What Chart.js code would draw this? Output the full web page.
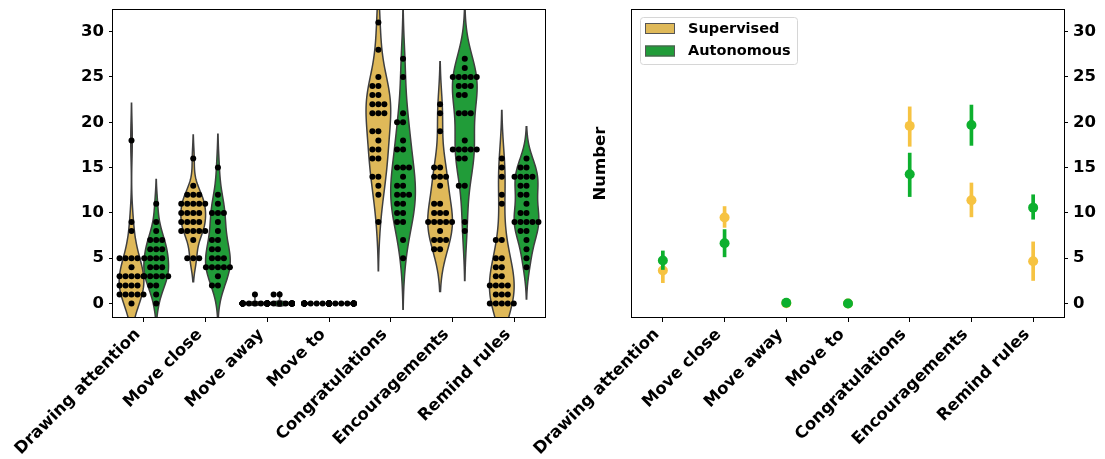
<!DOCTYPE html>
<html>
<head>
<meta charset="utf-8">
<script src="https://cdn.jsdelivr.net/npm/chart.js@4"></script>
<style>
  body { margin: 0; background: #fff; }
  #wrap { position: relative; width: 1105px; height: 459px; overflow: hidden; }
  canvas { position: absolute; top: 0; }
  #left { left: 0; }
  #right { left: 500px; }
</style>
</head>
<body>
<div id="wrap">
  <canvas id="left" width="560" height="459"></canvas>
  <canvas id="right" width="605" height="459"></canvas>
</div>
<script>
const categories = ['Drawing attention', 'Move close', 'Move away', 'Move to', 'Congratulations', 'Encouragements', 'Remind rules'];
const groups = ['Supervised', 'Autonomous'];
const yTicks = [0, 5, 10, 15, 20, 25, 30];

// one value per participant
const supervisedObs = [
  [0, 1, 1, 1, 1, 1, 2, 2, 2, 2, 3, 3, 3, 3, 3, 4, 5, 5, 5, 5, 8, 9, 18],
  [5, 5, 5, 7, 8, 8, 8, 8, 8, 9, 9, 9, 9, 10, 10, 10, 10, 11, 11, 11, 11, 11, 12, 12, 12, 13, 16],
  [0, 0, 0, 0, 0, 0, 0, 0, 0, 0, 0, 0, 0, 0, 0, 0, 0, 0, 0, 0, 0, 0, 0, 0, 1],
  [0, 0, 0, 0, 0, 0, 0, 0, 0, 0, 0, 0, 0, 0, 0, 0, 0, 0, 0, 0, 0, 0, 0, 0, 0],
  [9, 12, 13, 14, 14, 16, 16, 17, 17, 18, 19, 19, 21, 21, 21, 22, 22, 22, 23, 23, 24, 24, 25, 28, 31],
  [6, 6, 7, 7, 7, 8, 9, 9, 9, 9, 9, 10, 10, 10, 11, 11, 13, 14, 14, 14, 15, 15, 19, 21, 22],
  [0, 0, 0, 0, 0, 1, 1, 1, 2, 2, 2, 2, 3, 3, 4, 4, 5, 5, 7, 7, 11, 12, 14, 15, 16]
];
const autonomousObs = [
  [0, 1, 2, 2, 3, 3, 3, 3, 3, 4, 4, 4, 5, 5, 5, 5, 6, 6, 6, 7, 7, 7, 8, 9, 11],
  [2, 2, 3, 4, 4, 4, 4, 4, 5, 5, 5, 6, 6, 7, 7, 8, 9, 10, 10, 10, 11, 12, 15],
  [0, 0, 0, 0, 0, 0, 0, 0, 0, 0, 0, 0, 0, 0, 0, 0, 0, 0, 0, 0, 0, 0, 0, 1, 1],
  [0, 0, 0, 0, 0, 0, 0, 0, 0, 0, 0, 0, 0, 0, 0, 0, 0, 0, 0, 0, 0, 0, 0, 0, 0],
  [5, 7, 9, 9, 10, 10, 11, 11, 12, 12, 12, 13, 13, 14, 15, 15, 15, 17, 17, 18, 20, 20, 21, 25, 27],
  [8, 9, 13, 13, 16, 16, 17, 17, 17, 17, 17, 18, 21, 21, 21, 23, 23, 24, 24, 24, 25, 25, 25, 25, 25, 26, 27],
  [4, 5, 6, 7, 8, 8, 9, 9, 9, 9, 9, 10, 10, 11, 12, 12, 13, 13, 14, 14, 14, 14, 15, 15, 16]
];

// right panel: mean and 95% CI
const supMean = [3.64, 9.5, 0.04, 0, 19.6, 11.4, 4.67];
const supLow = [2.3, 8.4, 0, 0, 17.35, 9.56, 2.54];
const supHigh = [5.0, 10.7, 0.12, 0, 21.7, 13.3, 6.8];
const autMean = [4.74, 6.65, 0.08, 0, 14.26, 19.7, 10.58];
const autLow = [3.75, 5.15, 0, 0, 11.8, 17.45, 9.3];
const autHigh = [5.8, 8.16, 0.2, 0, 16.6, 21.9, 12.0];

const violinColors = ['#dfb959', '#219c39'];
const pointColors = ['#f6c342', '#0db02e'];

const HALF = 0.2;        // half width of one violin (x units)
const DOT_STEP = 0.097;  // swarm spacing (x units)

Chart.defaults.font.family = 'DejaVu Sans';
Chart.defaults.font.weight = 'bold';
Chart.defaults.font.size = 16.5;
Chart.defaults.color = '#000';

function swarm(obs, center) {
  let rows = {};
  let pts = [];
  obs.forEach(function (v) {
    let k = rows[v] || 0;
    rows[v] = k + 1;
    let step = Math.ceil(k / 2) * (k % 2 ? -1 : 1);
    let dx = Math.max(-HALF, Math.min(HALF, step * DOT_STEP));
    pts.push({ x: center + dx, y: v });
  });
  return pts;
}

function drawViolin(ctx, xs, ys, obs, center, color) {
  let n = obs.length;
  let mean = obs.reduce((a, b) => a + b, 0) / n;
  let sd = Math.sqrt(obs.reduce((a, b) => a + (b - mean) * (b - mean), 0) / (n - 1));
  ctx.strokeStyle = '#3f3f3f';
  ctx.lineWidth = 1.5;
  if (sd === 0) {
    ctx.beginPath();
    ctx.moveTo(xs.getPixelForValue(center - HALF), ys.getPixelForValue(obs[0]));
    ctx.lineTo(xs.getPixelForValue(center + HALF), ys.getPixelForValue(obs[0]));
    ctx.stroke();
    return;
  }
  let bw = sd * Math.pow(n, -0.2);
  let lo = Math.min(...obs) - 2 * bw;
  let hi = Math.max(...obs) + 2 * bw;
  let grid = [], dens = [];
  for (let j = 0; j <= 120; j++) {
    let g = lo + (hi - lo) * j / 120;
    let d = 0;
    obs.forEach(function (v) { d += Math.exp(-0.5 * Math.pow((g - v) / bw, 2)); });
    grid.push(g);
    dens.push(d);
  }
  let maxd = Math.max(...dens);
  ctx.beginPath();
  for (let j = 0; j < grid.length; j++) {
    let px = xs.getPixelForValue(center + dens[j] / maxd * HALF);
    let py = ys.getPixelForValue(grid[j]);
    if (j === 0) ctx.moveTo(px, py); else ctx.lineTo(px, py);
  }
  for (let j = grid.length - 1; j >= 0; j--) {
    ctx.lineTo(xs.getPixelForValue(center - dens[j] / maxd * HALF), ys.getPixelForValue(grid[j]));
  }
  ctx.closePath();
  ctx.fillStyle = color;
  ctx.fill();
  ctx.stroke();
}

const violinPlugin = {
  id: 'violins',
  beforeDatasetsDraw(chart) {
    const { ctx, chartArea: a, scales } = chart;
    ctx.save();
    ctx.beginPath();
    ctx.rect(a.left, a.top, a.width, a.height);
    ctx.clip();
    categories.forEach(function (c, i) {
      drawViolin(ctx, scales.x, scales.y, supervisedObs[i], i - 0.2, violinColors[0]);
      drawViolin(ctx, scales.x, scales.y, autonomousObs[i], i + 0.2, violinColors[1]);
    });
    ctx.restore();
  }
};

const framePlugin = {
  id: 'frame',
  afterDraw(chart) {
    const { ctx, chartArea: a } = chart;
    ctx.save();
    ctx.strokeStyle = '#000';
    ctx.lineWidth = 1;
    ctx.strokeRect(Math.round(a.left) - 0.5, Math.round(a.top) + 0.5, Math.round(a.width) + 1, Math.round(a.height) - 1);
    ctx.restore();
  }
};

const legendPlugin = {
  id: 'boxLegend',
  afterDraw(chart) {
    const { ctx, chartArea: a } = chart;
    let bx = a.left + 8, by = a.top + 8;
    ctx.save();
    ctx.fillStyle = 'rgba(255,255,255,0.8)';
    ctx.strokeStyle = '#d6d6d6';
    ctx.lineWidth = 1;
    ctx.beginPath();
    ctx.roundRect(bx + 0.5, by + 0.5, 157, 47, 3);
    ctx.fill();
    ctx.stroke();
    ctx.font = 'bold 14.5px "DejaVu Sans"';
    ctx.textBaseline = 'middle';
    groups.forEach(function (g, i) {
      let ry = by + 6 + i * 22.5;
      ctx.fillStyle = violinColors[i];
      ctx.fillRect(bx + 5, ry, 30, 11);
      ctx.strokeStyle = '#555';
      ctx.strokeRect(bx + 5.5, ry + 0.5, 29, 10);
      ctx.fillStyle = '#000';
      ctx.fillText(g, bx + 48, ry + 6);
    });
    ctx.restore();
  }
};

function catTicks(scale) {
  scale.ticks = categories.map((c, i) => ({ value: i }));
}
function numTicks(scale) {
  scale.ticks = yTicks.map(v => ({ value: v }));
}

function xAxis() {
  return {
    type: 'linear', min: -0.5, max: 6.5, offset: false,
    afterBuildTicks: catTicks,
    afterFit(scale) { scale.height = 141; scale.paddingLeft = 0; scale.paddingRight = 0; },
    ticks: { autoSkip: false, minRotation: 45, maxRotation: 45, padding: 3, labelOffset: -6, callback: v => categories[v] },
    grid: { drawOnChartArea: false, drawTicks: true, tickLength: 4, color: '#000', offset: false },
    border: { display: false }
  };
}
function yAxis(pos, width) {
  return {
    type: 'linear', position: pos, min: -1.6, max: 32.5,
    afterBuildTicks: numTicks,
    afterFit(scale) { scale.width = width; scale.paddingTop = 0; scale.paddingBottom = 0; },
    ticks: { padding: 5 },
    grid: { drawOnChartArea: false, drawTicks: true, tickLength: 4, color: '#000' },
    border: { display: false }
  };
}

// ---------- left: violins + swarm ----------
new Chart(document.getElementById('left'), {
  type: 'scatter',
  data: {
    datasets: [
      { label: groups[0], data: categories.flatMap((c, i) => swarm(supervisedObs[i], i - 0.2)) },
      { label: groups[1], data: categories.flatMap((c, i) => swarm(autonomousObs[i], i + 0.2)) }
    ].map(d => Object.assign(d, { pointRadius: 3, pointHoverRadius: 3, backgroundColor: '#000', borderWidth: 0 }))
  },
  options: {
    responsive: false,
    animation: false,
    layout: { padding: { top: 9, right: 15, left: 0, bottom: 0 } },
    plugins: { legend: { display: false }, tooltip: { enabled: false } },
    scales: { x: xAxis(), y: yAxis('left', 113) }
  },
  plugins: [violinPlugin, framePlugin]
});

// ---------- right: means with CI ----------
function errBars(low, high, color, order) {
  return {
    type: 'bar', data: categories.map((c, i) => ({ x: i, y: [low[i], high[i]] })),
    backgroundColor: color, barThickness: 3, grouped: false, borderWidth: 0, order: order
  };
}
function means(vals, color, label, order) {
  return {
    type: 'scatter', label: label, data: categories.map((c, i) => ({ x: i, y: vals[i] })),
    pointRadius: 5, pointHoverRadius: 5, backgroundColor: color, borderWidth: 0, order: order
  };
}

new Chart(document.getElementById('right'), {
  type: 'scatter',
  data: {
    datasets: [
      errBars(supLow, supHigh, pointColors[0], 3),
      means(supMean, pointColors[0], groups[0], 2),
      errBars(autLow, autHigh, pointColors[1], 1),
      means(autMean, pointColors[1], groups[1], 0)
    ]
  },
  options: {
    responsive: false,
    animation: false,
    layout: { padding: { top: 9, right: 0, left: 0, bottom: 0 } },
    plugins: { legend: { display: false }, tooltip: { enabled: false } },
    scales: {
      x: xAxis(),
      y: yAxis('right', 41),
      yl: {
        type: 'linear', position: 'left', min: -1.6, max: 32.5,
        afterFit(scale) { scale.width = 132; scale.paddingTop = 0; scale.paddingBottom = 0; },
        ticks: { display: false },
        grid: { display: false },
        border: { display: false },
        title: { display: true, text: 'Number', padding: { top: 91, bottom: 0 } }
      }
    }
  },
  plugins: [framePlugin, legendPlugin]
});
</script>
</body>
</html>
